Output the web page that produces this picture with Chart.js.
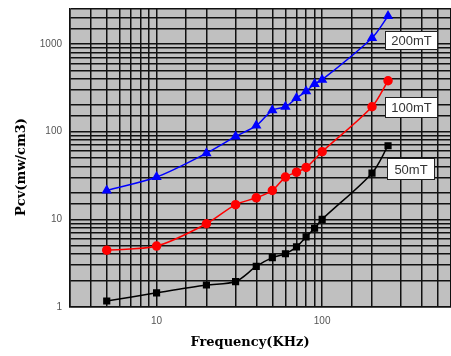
<!DOCTYPE html>
<html>
<head>
<meta charset="utf-8">
<script src="https://cdn.jsdelivr.net/npm/chart.js@4/dist/chart.umd.min.js"></script>
<style>
  html, body { margin: 0; padding: 0; background: #fff; }
  canvas { display: block; }
</style>
</head>
<body>
<canvas id="lossChart" width="451" height="356"></canvas>
<script>
// values (frequency in KHz, Pcv in mw/cm3)
const freq50 = [5, 10, 20, 30, 40, 50, 60, 70, 80, 90, 100, 200, 250];
const pcv50 = [1.17, 1.45, 1.78, 1.95, 2.9, 3.65, 4.05, 4.85, 6.3, 7.9, 10, 33.6, 69];

const freq100 = [5, 10, 20, 30, 40, 50, 60, 70, 80, 100, 200, 250];
const pcv100 = [4.45, 4.95, 8.9, 14.7, 17.6, 21.3, 30.3, 34.5, 39, 59, 192, 380];

const freq200 = [5, 10, 20, 30, 40, 50, 60, 70, 80, 90, 100, 200, 250];
const pcv200 = [21.3, 30.3, 56.7, 88, 117, 175, 192, 241, 288, 350, 390, 1170, 2080];

const seriesNames = ['50mT', '100mT', '200mT'];
const xLabelTicks = [10, 100];
const yLabelTicks = [1, 10, 100, 1000];

function pairs(xs, ys) {
    return xs.map((x, i) => ({ x: x, y: ys[i] }));
}

// grey plot background + titles + curve labels
const decor = {
    id: 'decor',
    beforeDraw(chart) {
        const a = chart.chartArea;
        const c = chart.ctx;
        c.save();
        c.fillStyle = '#c0c0c0';
        c.fillRect(a.left, a.top, a.right - a.left, a.bottom - a.top);
        c.restore();
    },
    afterDraw(chart) {
        const c = chart.ctx;
        c.save();
        c.fillStyle = '#000';
        c.font = 'bold 13px "DejaVu Serif", "Liberation Serif", serif';
        c.textAlign = 'center';
        c.textBaseline = 'middle';
        c.fillText('Frequency(KHz)', 250, 343);
        c.translate(22, 167);
        c.rotate(-Math.PI / 2);
        c.fillText('Pcv(mw/cm3)', 0, 0);
        c.restore();

        const boxes = [
            { text: seriesNames[2], x: 385, y: 31, w: 53, h: 19 },
            { text: seriesNames[1], x: 385, y: 97, w: 53, h: 21 },
            { text: seriesNames[0], x: 387, y: 158, w: 48, h: 22 }
        ];
        c.save();
        c.font = '13px "Liberation Sans", Arial, sans-serif';
        c.textAlign = 'center';
        c.textBaseline = 'middle';
        boxes.forEach(b => {
            c.fillStyle = '#fff';
            c.fillRect(b.x, b.y, b.w, b.h);
            c.strokeStyle = '#222';
            c.lineWidth = 1;
            c.strokeRect(b.x + 0.5, b.y + 0.5, b.w - 1, b.h - 1);
            c.fillStyle = '#333';
            c.fillText(b.text, b.x + b.w / 2, b.y + b.h / 2 + 1);
        });
        c.restore();
    }
};

const ctx = document.getElementById('lossChart').getContext('2d');
const lossChart = new Chart(ctx, {
    type: 'line',
    data: {
        datasets: [{
            label: seriesNames[0],
            data: pairs(freq50, pcv50),
            borderColor: '#000',
            backgroundColor: '#000',
            pointStyle: 'rect',
            pointRadius: 4,
            borderWidth: 1.5,
            tension: 0.3
        }, {
            label: seriesNames[1],
            data: pairs(freq100, pcv100),
            borderColor: '#ff0000',
            backgroundColor: '#ff0000',
            pointStyle: 'circle',
            pointRadius: 4,
            borderWidth: 1.5,
            tension: 0.3
        }, {
            label: seriesNames[2],
            data: pairs(freq200, pcv200),
            borderColor: '#0000ff',
            backgroundColor: '#0000ff',
            pointStyle: 'triangle',
            pointRadius: 4.5,
            borderWidth: 1.5,
            tension: 0.3
        }]
    },
    options: {
        responsive: false,
        animation: false,
        devicePixelRatio: 1,
        layout: { autoPadding: false, padding: { top: 9, right: 0, left: 0, bottom: 0 } },
        plugins: { legend: { display: false }, tooltip: { enabled: false } },
        scales: {
            x: {
                type: 'logarithmic',
                min: 3,
                max: 600,
                afterFit(scale) {
                    scale.height = 49;
                    scale.paddingLeft = 0;
                    scale.paddingRight = 0;
                },
                grid: { color: '#111', lineWidth: 1.5, drawTicks: false },
                border: { color: '#111', width: 1.5 },
                ticks: {
                    padding: 8,
                    autoSkip: false,
                    maxRotation: 0,
                    color: '#555',
                    font: { size: 10, family: '"Liberation Sans", Arial, sans-serif' },
                    callback: v => xLabelTicks.includes(v) ? String(v) : ''
                }
            },
            y: {
                type: 'logarithmic',
                min: 1,
                max: 2500,
                afterFit(scale) {
                    scale.width = 70;
                    scale.paddingTop = 0;
                    scale.paddingBottom = 0;
                },
                grid: { color: '#111', lineWidth: 1.5, drawTicks: false },
                border: { color: '#111', width: 1.5 },
                ticks: {
                    padding: 8,
                    autoSkip: false,
                    color: '#555',
                    font: { size: 10, family: '"Liberation Sans", Arial, sans-serif' },
                    callback: v => yLabelTicks.includes(v) ? String(v) : ''
                }
            }
        }
    },
    plugins: [decor]
});
</script>
</body>
</html>
